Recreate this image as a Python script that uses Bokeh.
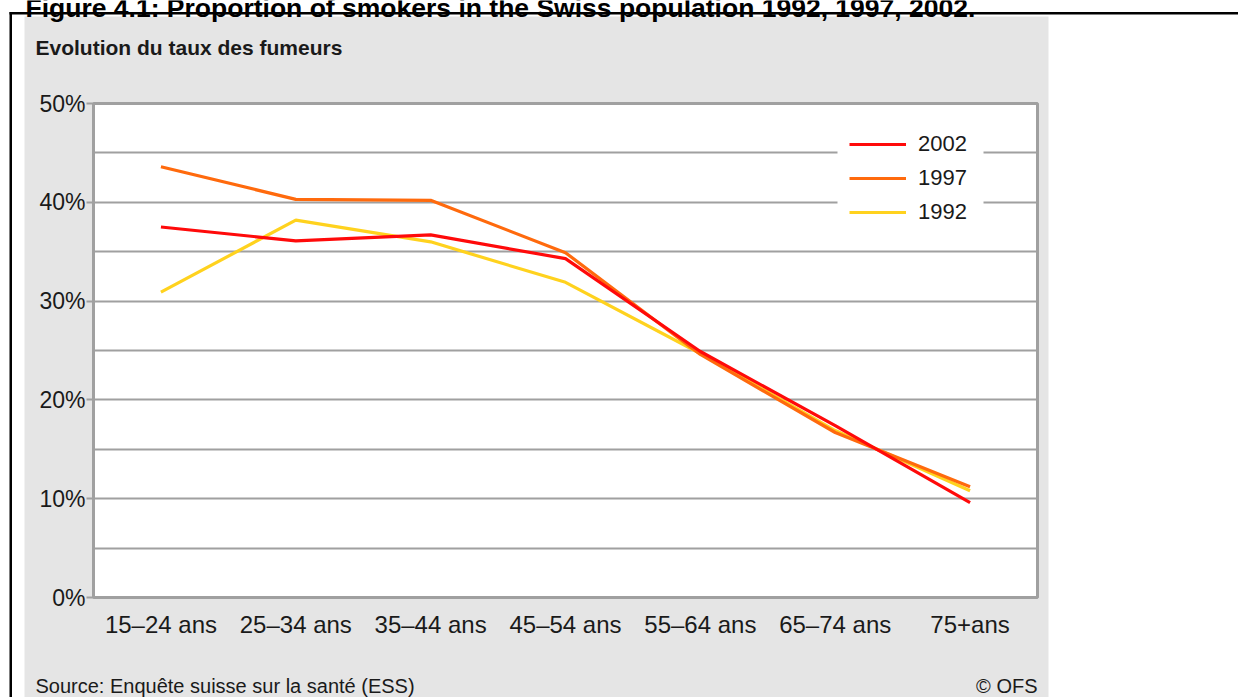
from bokeh.plotting import figure
from bokeh.models import (FactorRange, Range1d, FixedTicker, PrintfTickFormatter,
                          Legend, LegendItem, Label, BoxAnnotation)
from bokeh.embed import file_html
from bokeh.resources import INLINE

# ---------------- data ----------------
categories = ["15–24 ans", "25–34 ans", "35–44 ans", "45–54 ans",
              "55–64 ans", "65–74 ans", "75+ans"]
rate_2002 = [37.5, 36.1, 36.7, 34.3, 24.9, 17.4, 9.6]
rate_1997 = [43.6, 40.3, 40.2, 34.9, 24.6, 16.7, 11.2]
rate_1992 = [30.9, 38.2, 36.0, 31.9, 24.7, 16.9, 10.8]
y_ticks = [0, 10, 20, 30, 40, 50]
grid_ticks = [5, 10, 15, 20, 25, 30, 35, 40, 45]

heading = "Figure 4.1: Proportion of smokers in the Swiss population 1992, 1997, 2002."
subtitle = "Evolution du taux des fumeurs"
source = "Source: Enquête suisse sur la santé (ESS)"
credit = "© OFS"

# ---------------- layout ----------------
W, H = 1238, 697
FL, FR, FT, FB = 93, 1037, 103, 597   # plot-area edges in page pixels
FONT = "Liberation Sans"
TXT = "#1a1a1a"
GRAY = "#e5e5e5"
GRID = "#a0a0a0"
RED, ORANGE, YELLOW = "#ff0a0a", "#ff6a0d", "#ffd21e"
PIN = {"position": "absolute", "left": "0px", "top": "0px"}

# ---------- background page: gray panel, rules, texts ----------
bg = figure(width=W, height=H, output_backend="svg", toolbar_location=None,
            x_range=Range1d(0, W), y_range=Range1d(H, 0),
            x_axis_location=None, y_axis_location=None, min_border=0)
bg.styles = PIN
bg.outline_line_color = None
bg.background_fill_color = "white"
bg.border_fill_color = "white"
bg.xgrid.visible = False
bg.ygrid.visible = False


def bgbox(l, r, t, b, color):
    return BoxAnnotation(left=l, right=r, top=t, bottom=b,
                         fill_color=color, fill_alpha=1.0, line_color=None)


bg.add_layout(bgbox(24, 1048, 16, H, GRAY))
bg.add_layout(bgbox(9, W, 11.5, 14, "black"))
bg.add_layout(bgbox(9, 11.5, 11.5, H, "black"))


def label(px, py, text, size, bold=False, align="left", baseline="alphabetic",
          color=TXT):
    return Label(x=px, y=py, text=text, text_font=FONT, text_font_size=size,
                 text_font_style="bold" if bold else "normal",
                 text_color=color, text_baseline=baseline, text_align=align)


bg.add_layout(label(25, 7, heading, "26.5px", bold=True, color="black"))
bg.add_layout(label(35, 47, subtitle, "21px", bold=True))
bg.add_layout(label(35, 685, source, "20px", baseline="middle"))
bg.add_layout(label(1037, 685, credit, "20px", align="right", baseline="middle"))

# ---------- chart ----------
p = figure(width=W, height=H, output_backend="svg", toolbar_location=None,
           x_range=FactorRange(*categories, range_padding=0, factor_padding=0),
           y_range=Range1d(0, 50),
           min_border_left=FL, min_border_right=W - FR,
           min_border_top=FT, min_border_bottom=H - FB)
p.styles = PIN
p.border_fill_alpha = 0
p.background_fill_color = "white"
p.outline_line_color = GRID
p.outline_line_width = 3

# y axis
p.yaxis.ticker = FixedTicker(ticks=y_ticks)
p.yaxis.formatter = PrintfTickFormatter(format="%d%%")
p.yaxis.axis_line_color = None
p.yaxis.major_tick_in = 0
p.yaxis.major_tick_out = 7
p.yaxis.major_tick_line_color = GRID
p.yaxis.major_tick_line_width = 2
p.yaxis.minor_tick_line_color = None
p.yaxis.major_label_standoff = 1
p.yaxis.major_label_text_font = FONT
p.yaxis.major_label_text_font_size = "23px"
p.yaxis.major_label_text_color = TXT

# x axis
p.xaxis.axis_line_color = None
p.xaxis.major_tick_line_color = None
p.xaxis.minor_tick_line_color = None
p.xaxis.major_label_standoff = 7
p.xaxis.major_label_text_font = FONT
p.xaxis.major_label_text_font_size = "24px"
p.xaxis.major_label_text_color = TXT

# grid
p.xgrid.visible = False
p.ygrid.ticker = FixedTicker(ticks=grid_ticks)
p.ygrid.grid_line_color = GRID
p.ygrid.grid_line_width = 2

# lines
r92 = p.line(categories, rate_1992, line_color=YELLOW, line_width=3.2)
r97 = p.line(categories, rate_1997, line_color=ORANGE, line_width=3.2)
r02 = p.line(categories, rate_2002, line_color=RED, line_width=3.2)

# white patch behind the legend (inside the plot area)
p.add_layout(BoxAnnotation(left=837 - FL, right=983 - FL, top=FB - 118,
                           bottom=FB - 238, left_units="screen",
                           right_units="screen", top_units="screen",
                           bottom_units="screen", fill_color="white",
                           fill_alpha=1.0, line_color=None))

legend = Legend(items=[LegendItem(label="2002", renderers=[r02]),
                       LegendItem(label="1997", renderers=[r97]),
                       LegendItem(label="1992", renderers=[r92])],
                location=(849 - FL, FB - 229),
                border_line_color=None, background_fill_color="white",
                background_fill_alpha=1.0, glyph_width=57, glyph_height=34,
                label_height=34, label_standoff=12, padding=0, spacing=0,
                margin=0, label_text_font=FONT, label_text_font_size="22px",
                label_text_color=TXT)
p.add_layout(legend)

open("out.html", "w").write(file_html([bg, p], INLINE))
